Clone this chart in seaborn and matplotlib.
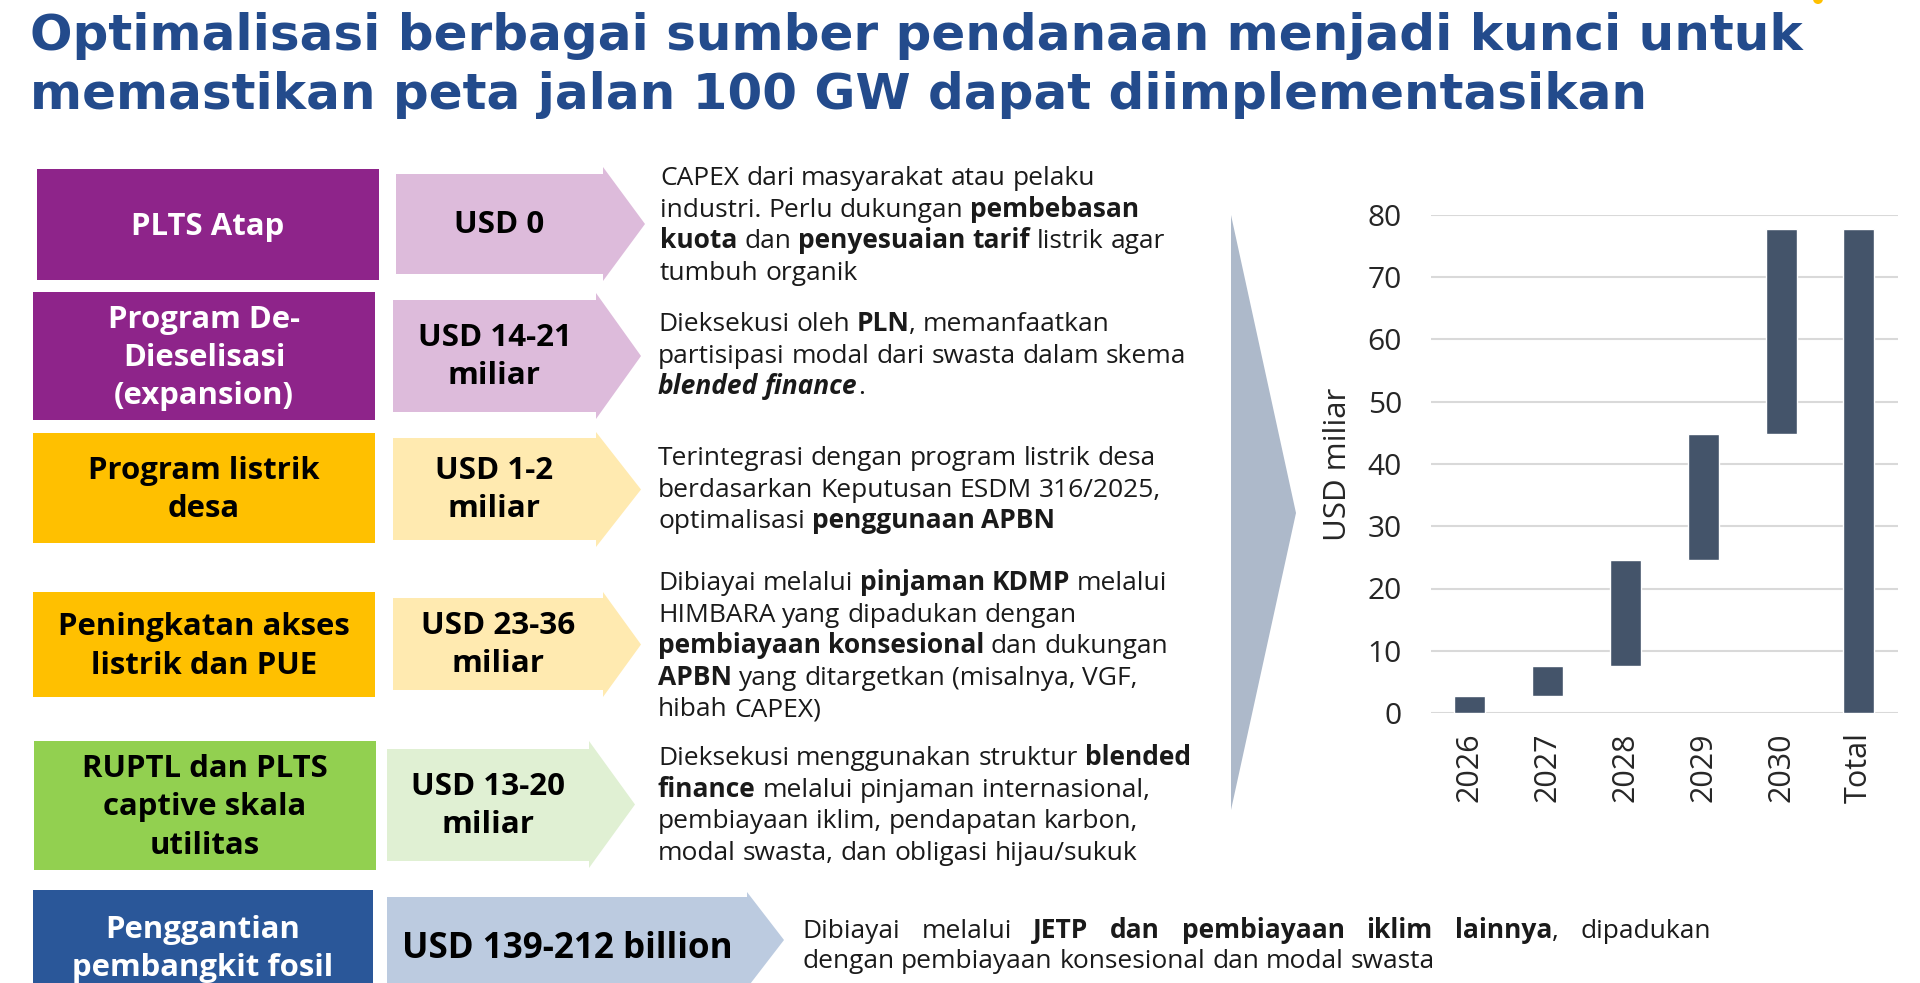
import numpy as np
import pandas as pd
import matplotlib
matplotlib.use("Agg")
import matplotlib.pyplot as plt
from matplotlib.patches import Rectangle, Polygon, Circle
import seaborn as sns

# ---- data ----
title_lines = ["Optimalisasi berbagai sumber pendanaan menjadi kunci untuk",
               "memastikan peta jalan 100 GW dapat diimplementasikan"]

years = ["2026", "2027", "2028", "2029", "2030", "Total"]
bar_bottom = [0, 2.8, 7.6, 24.5, 44.8, 0]
bar_top = [2.8, 7.6, 24.5, 44.8, 77.7, 77.7]
y_ticks = [0, 10, 20, 30, 40, 50, 60, 70, 80]
y_label = "USD miliar"

programs = ["PLTS Atap",
            "Program De-\nDieselisasi\n(expansion)",
            "Program listrik\ndesa",
            "Peningkatan akses\nlistrik dan PUE",
            "RUPTL dan PLTS\ncaptive skala\nutilitas",
            "Penggantian\npembangkit fosil"]
funding = ["USD 0", "USD 14-21\nmiliar", "USD 1-2\nmiliar", "USD 23-36\nmiliar",
           "USD 13-20\nmiliar", "USD 139-212 billion"]

# ** = tebal, __ = tebal miring
desc_1 = ["CAPEX dari masyarakat atau pelaku",
          "industri. Perlu dukungan **pembebasan**",
          "**kuota** dan **penyesuaian tarif** listrik agar",
          "tumbuh organik"]
desc_2 = ["Dieksekusi oleh **PLN**, memanfaatkan",
          "partisipasi modal dari swasta dalam skema",
          "__blended finance__."]
desc_3 = ["Terintegrasi dengan program listrik desa",
          "berdasarkan Keputusan ESDM 316/2025,",
          "optimalisasi **penggunaan APBN**"]
desc_4 = ["Dibiayai melalui **pinjaman KDMP** melalui",
          "HIMBARA yang dipadukan dengan",
          "**pembiayaan konsesional** dan dukungan",
          "**APBN** yang ditargetkan (misalnya, VGF,",
          "hibah CAPEX)"]
desc_5 = ["Dieksekusi menggunakan struktur **blended**",
          "**finance** melalui pinjaman internasional,",
          "pembiayaan iklim, pendapatan karbon,",
          "modal swasta, dan obligasi hijau/sukuk"]
desc_6 = ["Dibiayai melalui **JETP dan pembiayaan iklim lainnya**, dipadukan",
          "dengan pembiayaan konsesional dan modal swasta"]
descriptions = [desc_1, desc_2, desc_3, desc_4, desc_5, desc_6]

# ---- style / layout ----
W, H = 1920, 983
TITLE_C = "#234B8C"
TEXT_C = "#1A1A1A"
BAR_C = "#44546A"
box_colors = ["#8E248A", "#8E248A", "#FFC000", "#FFC000", "#92D050", "#2A5799"]
arrow_colors = ["#DDBBDB", "#DDBBDB", "#FFEAB0", "#FFEAB0", "#E0F0D3", "#BCCBE0"]
label_colors = ["white", "white", "black", "black", "black", "white"]

rows = [
    dict(box=(37, 169, 379, 280), body=(396, 174, 603, 274), head=(167, 281), tip=645, desc=(660, 176)),
    dict(box=(33, 292, 375, 420), body=(393, 300, 596, 412), head=(293, 419), tip=641, desc=(658, 322)),
    dict(box=(33, 433, 375, 543), body=(393, 438, 596, 540), head=(432, 547), tip=641, desc=(658, 456)),
    dict(box=(33, 592, 375, 697), body=(393, 598, 603, 690), head=(592, 697), tip=641, desc=(658, 581)),
    dict(box=(34, 741, 376, 870), body=(387, 749, 589, 861), head=(741, 868), tip=635, desc=(658, 756)),
    dict(box=(33, 890, 373, 1004), body=(387, 897, 747, 999), head=(892, 988), tip=784, desc=(802, 929)),
]

sns.set_style("white")
plt.rcParams['font.family'] = ['Open Sans', 'DejaVu Sans']

fig = plt.figure(figsize=(W / 100, H / 100), dpi=100)
ax_bg = fig.add_axes([0, 0, 1, 1])
ax_bg.set_xlim(0, W)
ax_bg.set_ylim(H, 0)
ax_bg.axis("off")
renderer = fig.canvas.get_renderer()

STYLES = {"normal": dict(fontweight="normal", fontstyle="normal"),
          "bold": dict(fontweight="bold", fontstyle="normal"),
          "bolditalic": dict(fontweight="bold", fontstyle="italic")}


def parse_markup(s):
    segs, buf, style, i = [], "", "normal", 0
    while i < len(s):
        tok = s[i:i + 2]
        if tok in ("**", "__"):
            if buf:
                segs.append((buf, style))
                buf = ""
            target = "bold" if tok == "**" else "bolditalic"
            style = "normal" if style == target else target
            i += 2
        else:
            buf += s[i]
            i += 1
    if buf:
        segs.append((buf, style))
    return segs


def split_pieces(segs):
    pieces, space = [], False
    for text, st in segs:
        cur = ""
        for ch in text:
            if ch == " ":
                if cur:
                    pieces.append((cur, st, space))
                    cur = ""
                space = True
            else:
                cur += ch
        if cur:
            pieces.append((cur, st, space))
            space = False
    return pieces


def text_width(s, size, st="normal"):
    t = ax_bg.text(0, 0, s, fontsize=size, **STYLES[st])
    w = t.get_window_extent(renderer).width
    t.remove()
    return w


def draw_rich(x, y, line, size, justify=None):
    pieces = split_pieces(parse_markup(line))
    space_w = text_width("n n", size) - text_width("nn", size)
    arts, widths = [], []
    for txt, st, sp in pieces:
        t = ax_bg.text(x, y, txt, fontsize=size, va="baseline", ha="left",
                       color=TEXT_C, **STYLES[st])
        arts.append(t)
        widths.append(t.get_window_extent(renderer).width)
    n_sp = sum(1 for p in pieces if p[2])
    gap = space_w
    if justify is not None and n_sp > 0:
        gap = (justify - sum(widths)) / n_sp
    cx = x
    for t, w, p in zip(arts, widths, pieces):
        if p[2]:
            cx += gap
        t.set_x(cx)
        cx += w


# title
ax_bg.text(30, 50, title_lines[0], fontsize=36, fontweight="bold", color=TITLE_C,
           family="DejaVu Sans", va="baseline", ha="left")
ax_bg.text(30, 109, title_lines[1], fontsize=36, fontweight="bold", color=TITLE_C,
           family="DejaVu Sans", va="baseline", ha="left")
ax_bg.add_patch(Circle((1818, -1), 5, color="#FFC000", lw=0))

# left boxes, arrows and descriptions
for i, r in enumerate(rows):
    x0, y0, x1, y1 = r["box"]
    ax_bg.add_patch(Rectangle((x0, y0), x1 - x0, y1 - y0, color=box_colors[i], lw=0))
    ax_bg.text((x0 + x1) / 2, (y0 + y1) / 2 + 2, programs[i], fontsize=22.4,
               fontweight="bold", color=label_colors[i], ha="center", va="center",
               linespacing=1.36)
    bx0, by0, bx1, by1 = r["body"]
    hy0, hy1 = r["head"]
    ym = (by0 + by1) / 2
    poly = [(bx0, by0), (bx1, by0), (bx1, hy0), (r["tip"], (hy0 + hy1) / 2),
            (bx1, hy1), (bx1, by1), (bx0, by1)]
    ax_bg.add_patch(Polygon(poly, closed=True, color=arrow_colors[i], lw=0))
    ax_bg.text((bx0 + bx1) / 2, ym + 1, funding[i], fontsize=22.6 if i < 5 else 25.2,
               fontweight="bold", color="black", ha="center", va="center",
               linespacing=1.36)
    dx, dy = r["desc"]
    step = 31.6 if i < 5 else 30
    for k, line in enumerate(descriptions[i]):
        just = 909 if (i == 5 and k == 0) else None
        draw_rich(dx, dy + 9 + k * step, line, 19, justify=just)

# big grey chevron
ax_bg.add_patch(Polygon([(1231, 215), (1296, 513), (1231, 810)], closed=True,
                        color="#ADB9CA", lw=0))

# ---- bar chart ----
ax = fig.add_axes([1431 / W, 1 - 713 / H, 466.8 / W, 498 / H])
ax.set_facecolor("none")
df_bars = pd.DataFrame({"year": years, "start": bar_bottom, "end": bar_top})
df_bars["size"] = df_bars["end"] - df_bars["start"]
sns.barplot(data=df_bars, x="year", y="size", bottom=df_bars["start"].to_numpy(),
            color=BAR_C, saturation=1, width=0.4, errorbar=None, ax=ax, zorder=3)
ax.set_xlim(-0.5, 5.5)
ax.set_ylim(0, 80)
ax.set_yticks(y_ticks)
ax.yaxis.grid(True, color="#D9D9D9", lw=1.5, zorder=0)
ax.xaxis.grid(False)
ax.set_axisbelow(True)
for s in ax.spines.values():
    s.set_visible(False)
ax.tick_params(axis="y", length=0, pad=21, labelsize=21.5, labelcolor="#262626")
ax.tick_params(axis="x", length=0, pad=14, labelsize=22, labelcolor="#262626",
               labelrotation=90)
ax.set_xlabel("")
ax.set_ylabel(y_label, fontsize=22.5, color="#262626", va="center")
ax.yaxis.set_label_coords(-0.2, 0.5)

fig.savefig("out.png", dpi=100)
